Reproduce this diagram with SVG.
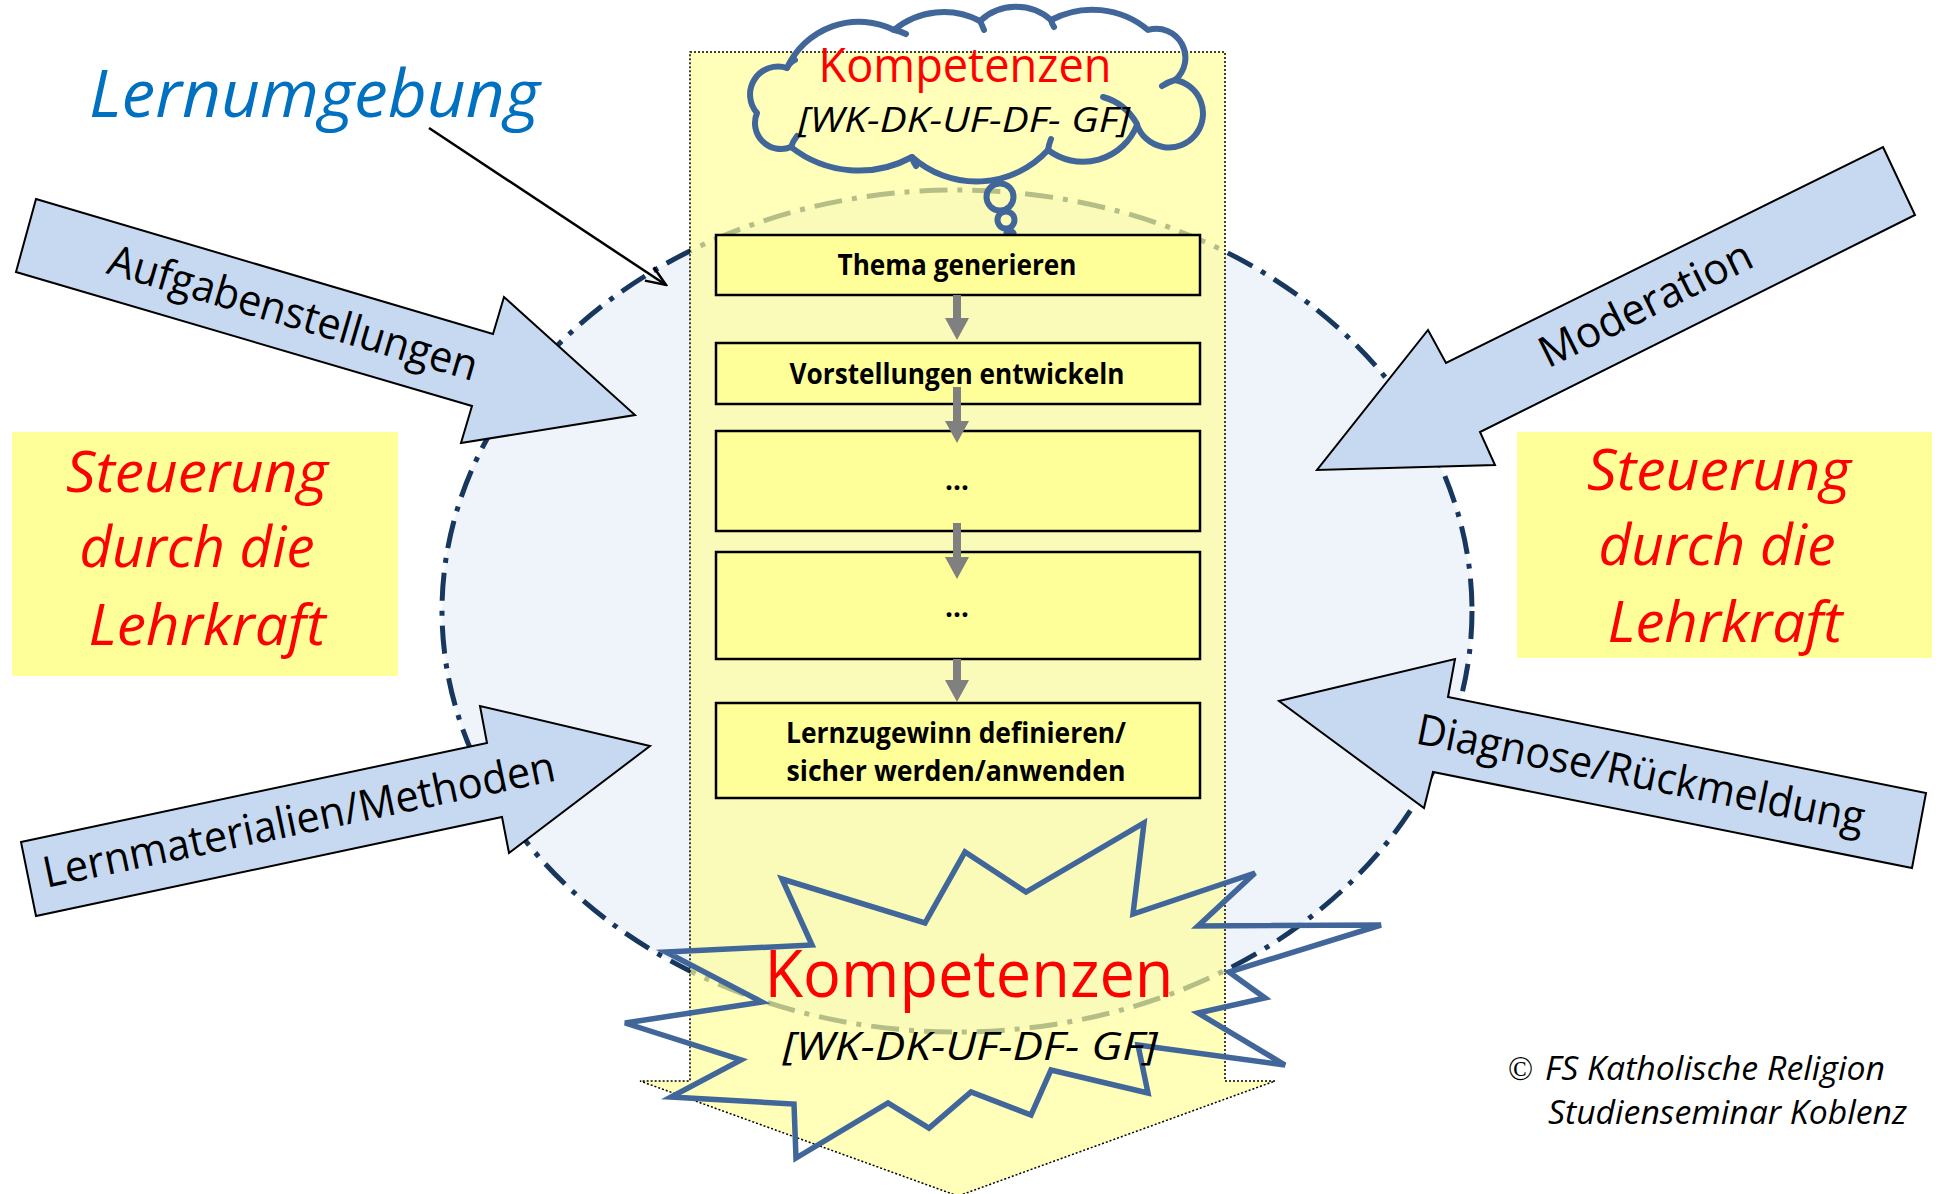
<svg xmlns="http://www.w3.org/2000/svg" width="1939" height="1194" viewBox="0 0 1939 1194">
<style>
.f{font-family:"Open Sans","Noto Sans","DejaVu Sans",sans-serif}
.lbl{font-size:43px;fill:#000;text-anchor:middle}
.st{font-size:56px;fill:#ff0000;font-style:italic;text-anchor:middle}
.box{fill:#ffff99;stroke:#000;stroke-width:2.5}
.bt{font-size:28px;font-weight:700;text-anchor:middle;fill:#000}
.blue{fill:#c6d9f1;stroke:#000;stroke-width:2;stroke-linejoin:miter}
.outl{fill:none;stroke:#41669a;stroke-width:6;stroke-linejoin:round;stroke-linecap:round}
.flow{stroke:#808080;stroke-width:8;fill:none}
</style>
<defs>
<marker id="ah" markerUnits="userSpaceOnUse" viewBox="0 0 22 24" markerWidth="22" markerHeight="24" refX="0" refY="12" orient="auto">
<path d="M0,0 L22,12 L0,24 Z" fill="#808080"/>
</marker>
<marker id="open" markerUnits="userSpaceOnUse" viewBox="0 0 24 20" markerWidth="24" markerHeight="20" refX="22" refY="10" orient="auto">
<path d="M2,2 L22,10 L2,18" fill="none" stroke="#000" stroke-width="2.5"/>
</marker>
</defs>
<rect width="1939" height="1194" fill="#ffffff"/>

<g id="lernumgebung-oval">
<ellipse cx="957" cy="611" rx="515" ry="421" fill="#eff3fa" stroke="#17375e" stroke-width="5" stroke-dasharray="28 10 5 10"/>
</g>

<g id="column">
<path d="M690,52 H1225 V1081 H1275 L958,1196 L640,1081 H690 Z" fill="#ffff99" fill-opacity="0.68" stroke="#000" stroke-width="1.5" stroke-dasharray="2 2"/>
</g>

<g id="arrow-aufgaben">
<polygon class="blue" points="36,199 493,334 504,297 635,415 461,443 472,406 16,272"/>
<text class="f lbl" transform="translate(289,327) rotate(16.4)" textLength="383" lengthAdjust="spacingAndGlyphs">Aufgabenstellungen</text>
</g>
<g id="arrow-lernmaterialien">
<polygon class="blue" points="21,842 487,743 480,706 650,746 509,853 502,817 36,916"/>
<text class="f lbl" transform="translate(302,834) rotate(-11.9)" textLength="522" lengthAdjust="spacingAndGlyphs">Lernmaterialien/Methoden</text>
</g>
<g id="arrow-moderation">
<polygon class="blue" points="1883,147 1915,215 1480,432 1495,465 1317,470 1428,330 1446,363"/>
<text class="f lbl" transform="translate(1652,317) rotate(-26.3)" textLength="232" lengthAdjust="spacingAndGlyphs">Moderation</text>
</g>
<g id="arrow-diagnose">
<polygon class="blue" points="1279,701 1455,659 1448,697 1926,793 1912,868 1433,772 1424,808"/>
<text class="f lbl" transform="translate(1638,788) rotate(11.3)" textLength="456" lengthAdjust="spacingAndGlyphs">Diagnose/Rückmeldung</text>
</g>

<g id="steuerung-left">
<rect x="12" y="432" width="386" height="244" fill="#ffff99"/>
<text class="f st" x="197" y="492" textLength="262" lengthAdjust="spacingAndGlyphs">Steuerung</text>
<text class="f st" x="197" y="567" textLength="235" lengthAdjust="spacingAndGlyphs">durch die</text>
<text class="f st" x="207" y="645" textLength="237" lengthAdjust="spacingAndGlyphs">Lehrkraft</text>
</g>
<g id="steuerung-right">
<rect x="1517" y="432" width="415" height="226" fill="#ffff99"/>
<text class="f st" x="1719" y="490" textLength="264" lengthAdjust="spacingAndGlyphs">Steuerung</text>
<text class="f st" x="1717" y="565" textLength="237" lengthAdjust="spacingAndGlyphs">durch die</text>
<text class="f st" x="1725" y="642" textLength="235" lengthAdjust="spacingAndGlyphs">Lehrkraft</text>
</g>

<g id="cloud-kompetenzen">
<path class="outl" d="M757,113 A28,28 0 0 1 787,68 A79,79 0 0 1 894,30 A78,78 0 0 1 980,21 A53,53 0 0 1 1051,20 A87,87 0 0 1 1148,30 A29,29 0 0 1 1175,80 A34,34 0 1 1 1137,125 A58,58 0 0 1 1048,150 A97,97 0 0 1 912,157 A110,110 0 0 1 791,147 A26,26 0 0 1 757,113 Z"/>
<path class="outl" d="M787,68 Q790,62 795,60 M894,30 Q900,31 906,34 M980,21 Q982,25 984,30 M1051,20 Q1052,24 1054,27 M1175,80 Q1168,82 1162,86 M1103,97 Q1125,103 1137,124 M1048,150 Q1049,144 1051,139 M912,157 Q913,162 916,166 M791,147 Q793,141 797,136"/>
<circle class="outl" cx="1000" cy="197" r="13.5"/>
<circle class="outl" cx="1006" cy="220" r="8.5"/>
<circle class="outl" cx="1010" cy="235" r="4"/>
<text class="f" x="965" y="82" font-size="47" fill="#ff0000" text-anchor="middle" textLength="293" lengthAdjust="spacingAndGlyphs">Kompetenzen</text>
<text class="f" x="964" y="132" font-size="35" font-style="italic" fill="#000" text-anchor="middle" textLength="332" lengthAdjust="spacingAndGlyphs">[WK-DK-UF-DF- GF]</text>
</g>

<g id="burst-kompetenzen">
<polygon class="outl" style="stroke-linejoin:miter;stroke-width:5.5" points="782,879 925,923 965,852 1026,892 1144,823 1133,914 1255,873 1198,926 1381,925 1229,972 1265,998 1198,1013 1285,1065 1138,1045 1148,1093 1051,1070 1031,1115 971,1092 929,1128 888,1103 796,1158 794,1104 671,1097 741,1060 625,1023 762,1002 666,952 812,945"/>
<text class="f" x="969" y="997" font-size="65" fill="#ff0000" text-anchor="middle" textLength="409" lengthAdjust="spacingAndGlyphs">Kompetenzen</text>
<text class="f" x="970" y="1060" font-size="38" font-style="italic" fill="#000" text-anchor="middle" textLength="375" lengthAdjust="spacingAndGlyphs">[WK-DK-UF-DF- GF]</text>
</g>

<g id="step1">
<rect class="box" x="716" y="235" width="484" height="60"/>
<text class="f bt" x="957" y="275" textLength="239" lengthAdjust="spacingAndGlyphs">Thema generieren</text>
</g>
<g id="step2">
<rect class="box" x="716" y="343" width="484" height="61"/>
<text class="f bt" x="957" y="384" textLength="335" lengthAdjust="spacingAndGlyphs">Vorstellungen entwickeln</text>
</g>
<g id="step3">
<rect class="box" x="716" y="431" width="484" height="100"/>
<text class="f bt" x="957" y="490">…</text>
</g>
<g id="step4">
<rect class="box" x="716" y="552" width="484" height="107"/>
<text class="f bt" x="957" y="617">…</text>
</g>
<g id="step5">
<rect class="box" x="716" y="703" width="484" height="95"/>
<text class="f bt" x="956" y="743" textLength="340" lengthAdjust="spacingAndGlyphs">Lernzugewinn definieren/</text>
<text class="f bt" x="956" y="781" textLength="339" lengthAdjust="spacingAndGlyphs">sicher werden/anwenden</text>
</g>

<g id="connectors">
<line class="flow" x1="957" y1="295" x2="957" y2="318" marker-end="url(#ah)"/>
<line class="flow" x1="957" y1="387" x2="957" y2="421" marker-end="url(#ah)"/>
<line class="flow" x1="957" y1="523" x2="957" y2="557" marker-end="url(#ah)"/>
<line class="flow" x1="957" y1="659" x2="957" y2="680" marker-end="url(#ah)"/>
<line x1="429" y1="128" x2="666" y2="285" stroke="#000" stroke-width="2.5" marker-end="url(#open)"/>
</g>

<g id="title">
<text class="f" x="89" y="117" font-size="66" font-style="italic" fill="#0070c0" textLength="451" lengthAdjust="spacingAndGlyphs">Lernumgebung</text>
</g>

<g id="copyright">
<text x="1508" y="1080" font-family="Liberation Serif, serif" font-size="33" fill="#000">©</text>
<text class="f" x="1545" y="1080" font-size="32" font-style="italic" fill="#000" textLength="340" lengthAdjust="spacingAndGlyphs">FS Katholische Religion</text>
<text class="f" x="1548" y="1124" font-size="32" font-style="italic" fill="#000" textLength="359" lengthAdjust="spacingAndGlyphs">Studienseminar Koblenz</text>
</g>
</svg>
